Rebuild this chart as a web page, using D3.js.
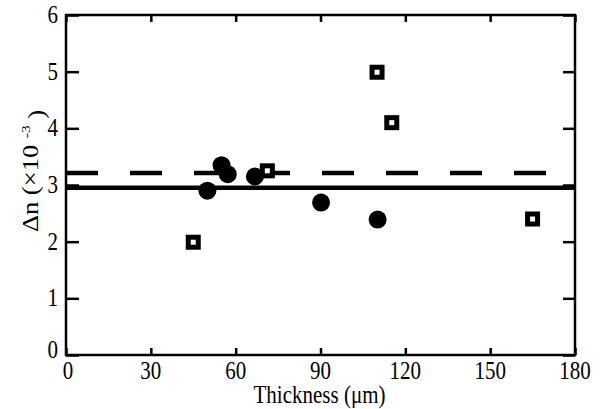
<!DOCTYPE html>
<html>
<head>
<meta charset="utf-8">
<script src="https://cdn.jsdelivr.net/npm/d3@7"></script>
<style>
  body { margin: 0; background: #fff; }
  text { font-family: "Liberation Serif", "Times New Roman", serif; fill: #000; }
</style>
</head>
<body>
<div id="chart"></div>
<script>
// circles (filled)
var circleX = [50, 55, 57.2, 66.8, 90.2, 110.2];
var circleY = [2.9, 3.35, 3.19, 3.15, 2.69, 2.39];
// squares (open)
var squareX = [45, 71.2, 110, 115.2, 165];
var squareY = [1.99, 3.25, 4.99, 4.1, 2.4];
// reference lines
var solidLevel = 2.95;
var dashLevel = 3.21;
var xTicks = [0, 30, 60, 90, 120, 150, 180];
var yTicks = [0, 1, 2, 3, 4, 5, 6];

const width = 602, height = 409;
const margin = {top: 15, right: 27, bottom: 54, left: 66};
const w = width - margin.left - margin.right,
      h = height - margin.top - margin.bottom;
const stretch = 1.18;   // the glyphs in the original are a bit taller than wide
const tickFont = 21, titleFont = 21, yTitleFont = 22.5;

const svg = d3.select("#chart").append("svg")
    .attr("width", width)
    .attr("height", height);

const g = svg.append("g")
    .attr("transform", "translate(" + margin.left + "," + margin.top + ")");

const x = d3.scaleLinear().domain([0, 180]).range([0, w]);
const y = d3.scaleLinear().domain([0, 6]).range([h, 0]);

// reference lines
g.append("line")
    .attr("x1", 0).attr("x2", w)
    .attr("y1", y(solidLevel)).attr("y2", y(solidLevel))
    .attr("stroke", "#000").attr("stroke-width", 4.5);

g.append("line")
    .attr("x1", 0).attr("x2", w)
    .attr("y1", y(dashLevel)).attr("y2", y(dashLevel))
    .attr("stroke", "#000").attr("stroke-width", 4.5)
    .attr("stroke-dasharray", "32,32");

// axes (ticks inward, labels drawn below)
const axBottom = g.append("g")
    .attr("transform", "translate(0," + h + ")")
    .call(d3.axisBottom(x).tickValues(xTicks).tickSize(-7).tickFormat(""));
const axTop = g.append("g")
    .call(d3.axisTop(x).tickValues(xTicks).tickSize(-7).tickFormat(""));
const axLeft = g.append("g")
    .call(d3.axisLeft(y).tickValues(yTicks).tickSize(-13).tickFormat(""));
const axRight = g.append("g")
    .attr("transform", "translate(" + w + ",0)")
    .call(d3.axisRight(y).tickValues(yTicks).tickSize(-12).tickFormat(""));

[axBottom, axTop, axLeft, axRight].forEach(function(a) {
  a.select(".domain").remove();
  a.selectAll(".tick line").attr("stroke", "#000").attr("stroke-width", 2.5);
});

// tick labels
g.append("g").selectAll("text")
    .data(xTicks)
    .join("text")
    .attr("transform", function(d) {
      return "translate(" + (x(d) + (d === 0 ? 2 : 0)) + "," + (h + 24) + ") scale(1," + stretch + ")";
    })
    .attr("text-anchor", "middle")
    .style("font-size", tickFont + "px")
    .text(function(d) { return d; });

g.append("g").selectAll("text")
    .data(yTicks)
    .join("text")
    .attr("transform", function(d) {
      return "translate(-8," + (y(d) + (d === 0 ? 3 : 8)) + ") scale(1," + stretch + ")";
    })
    .attr("text-anchor", "end")
    .style("font-size", tickFont + "px")
    .text(function(d) { return d; });

// frame
g.append("rect")
    .attr("width", w).attr("height", h)
    .attr("fill", "none")
    .attr("stroke", "#000")
    .attr("stroke-width", 2.5);

// circles
g.selectAll("circle.pt")
    .data(circleX)
    .join("circle")
    .attr("class", "pt")
    .attr("cx", function(d) { return x(d); })
    .attr("cy", function(d, i) { return y(circleY[i]); })
    .attr("r", 9)
    .attr("fill", "#000");

// squares
const sq = 10;
g.selectAll("rect.sq")
    .data(squareX)
    .join("rect")
    .attr("class", "sq")
    .attr("x", function(d) { return x(d) - sq / 2; })
    .attr("y", function(d, i) { return y(squareY[i]) - sq / 2; })
    .attr("width", sq).attr("height", sq)
    .attr("fill", "#fff")
    .attr("stroke", "#000")
    .attr("stroke-width", 5);

// axis titles
svg.append("text")
    .attr("transform", "translate(" + (margin.left + w / 2 - 1) + ",403) scale(1," + stretch + ")")
    .attr("text-anchor", "middle")
    .style("font-size", titleFont + "px")
    .text("Thickness (\u03bcm)");

const yl = svg.append("text")
    .attr("transform", "translate(38,171) scale(1," + stretch + ") rotate(-90)")
    .attr("text-anchor", "middle")
    .style("font-size", yTitleFont + "px");
yl.append("tspan").text("\u0394n (\u00d710 ");
yl.append("tspan").attr("dy", "-0.6em").style("font-size", "13px").text("-3");
yl.append("tspan").attr("dy", "0.6em").text(" )");
</script>
</body>
</html>
